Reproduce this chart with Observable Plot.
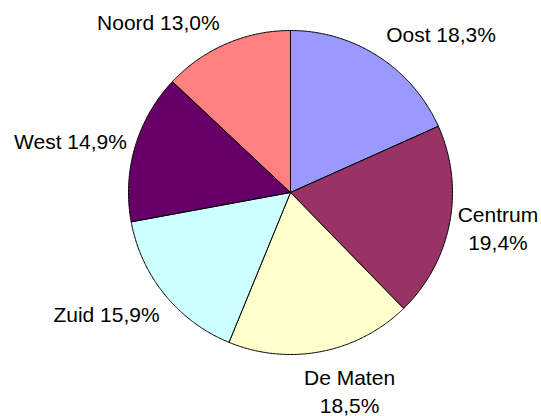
<!DOCTYPE html>
<html>
<head>
<meta charset="utf-8">
<script src="https://cdn.jsdelivr.net/npm/d3@7"></script>
<script src="https://cdn.jsdelivr.net/npm/@observablehq/plot@0.6"></script>
<style>
  html, body { margin: 0; padding: 0; background: #fff; }
  #chart svg { display: block; }
</style>
</head>
<body>
<div id="chart"></div>
<script>
// Data (clockwise from 12 o'clock)
const names = ["Oost", "Centrum", "De Maten", "Zuid", "West", "Noord"];
const shares = [18.3, 19.4, 18.5, 15.9, 14.9, 13.0];
const labels = ["Oost 18,3%", "Centrum\n19,4%", "De Maten\n18,5%", "Zuid 15,9%", "West 14,9%", "Noord 13,0%"];

// Styles / layout
const colors = ["#9999FF", "#993366", "#FFFFCC", "#CCFFFF", "#660066", "#FF8080"];
const labelRadius = 1.09;
const labelOffsets = [
  {dx: 54.5, dy: -11.3},
  {dx: 34, dy: 1.4},
  {dx: 25.4, dy: 24.3},
  {dx: -46.9, dy: 9.7},
  {dx: -50.6, dy: -2.2},
  {dx: -62, dy: -9.4}
];

const arcs = d3.pie().sort(null).value(d => d)(shares);

// polygon vertices per slice in unit-circle coordinates
const pts = [];
arcs.forEach((a, i) => {
  const name = names[i];
  pts.push({name, x: 0, y: 0});
  const n = Math.max(2, Math.ceil((a.endAngle - a.startAngle) / (Math.PI / 360)));
  for (let k = 0; k <= n; k++) {
    const t = a.startAngle + (a.endAngle - a.startAngle) * k / n;
    pts.push({name, x: Math.sin(t), y: Math.cos(t)});
  }
  pts.push({name, x: 0, y: 0});
});

const labelMarks = arcs.map((a, i) => {
  const mid = (a.startAngle + a.endAngle) / 2;
  return Plot.text([{text: labels[i], x: labelRadius * Math.sin(mid), y: labelRadius * Math.cos(mid)}], {
    x: "x", y: "y", text: "text",
    dx: labelOffsets[i].dx, dy: labelOffsets[i].dy,
    textAnchor: "middle", lineAnchor: "middle",
    fontSize: 21, lineHeight: 1.33, fill: "#000"
  });
});

const chart = Plot.plot({
  width: 541,
  height: 416,
  margin: 0,
  style: {fontFamily: "'Liberation Sans', Arial, sans-serif", background: "#fff"},
  x: {domain: [-1, 1], range: [128, 452], axis: null},
  y: {domain: [-1, 1], range: [354, 30], axis: null},
  color: {domain: names, range: colors},
  marks: [
    Plot.line(pts, {x: "x", y: "y", z: "name", fill: "name", stroke: "#000", strokeWidth: 1, strokeLinejoin: "round", curve: "linear"}),
    ...labelMarks
  ]
});
document.getElementById("chart").append(chart);
</script>
</body>
</html>
